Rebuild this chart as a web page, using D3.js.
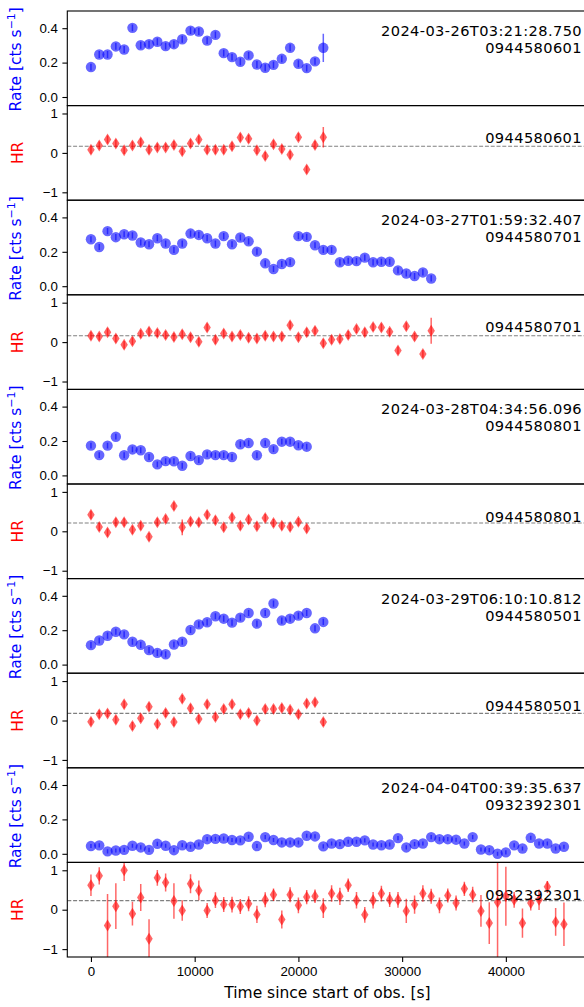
<!DOCTYPE html>
<html>
<head>
<meta charset="utf-8">
<script src="https://cdn.jsdelivr.net/npm/d3@7/dist/d3.min.js"></script>
<style>
    body { margin: 0; background: #fff; }
    svg { font-family: "DejaVu Sans", sans-serif; display: block; }
</style>
</head>
<body>
<div id="chart"></div>
<script>

// bin start times [s], 800 s bins
const binTimes = [0, 800, 1600, 2400, 3200, 4000, 4800, 5600, 6400, 7200, 8000, 8800, 9600, 10400, 11200,
    12000, 12800, 13600, 14400, 15200, 16000, 16800, 17600, 18400, 19200, 20000, 20800, 21600, 22400, 23200,
    24000, 24800, 25600, 26400, 27200, 28000, 28800, 29600, 30400, 31200, 32000, 32800, 33600, 34400, 35200,
    36000, 36800, 37600, 38400, 39200, 40000, 40800, 41600, 42400, 43200, 44000, 44800, 45600];

const obsDates = ["2024-03-26T03:21:28.750", "2024-03-27T01:59:32.407", "2024-03-28T04:34:56.096",
    "2024-03-29T06:10:10.812", "2024-04-04T00:39:35.637"];
const obsIds = ["0944580601", "0944580701", "0944580801", "0944580501", "0932392301"];

// count rates [cts/s]
const rate0601 = [0.174, 0.247, 0.247, 0.294, 0.276, 0.402, 0.301, 0.307, 0.321, 0.296, 0.307, 0.336, 0.386, 0.381, 0.328,
    0.361, 0.255, 0.232, 0.205, 0.242, 0.189, 0.170, 0.187, 0.222, 0.286, 0.193, 0.168, 0.207, 0.286];
const rate0701 = [0.273, 0.228, 0.320, 0.285, 0.302, 0.295, 0.254, 0.244, 0.279, 0.248, 0.211, 0.248, 0.306, 0.298, 0.279,
    0.248, 0.291, 0.244, 0.283, 0.261, 0.201, 0.133, 0.100, 0.129, 0.140, 0.291, 0.287, 0.238, 0.211, 0.211,
    0.139, 0.148, 0.146, 0.166, 0.139, 0.142, 0.142, 0.092, 0.074, 0.059, 0.080, 0.045];
const rate0801 = [0.173, 0.118, 0.173, 0.225, 0.117, 0.151, 0.146, 0.107, 0.064, 0.083, 0.082, 0.056, 0.113, 0.089, 0.122,
    0.118, 0.118, 0.107, 0.181, 0.188, 0.117, 0.188, 0.153, 0.196, 0.196, 0.175, 0.167];
const rate0501 = [0.113, 0.140, 0.168, 0.191, 0.176, 0.133, 0.115, 0.084, 0.068, 0.060, 0.117, 0.133, 0.201, 0.234, 0.246,
    0.281, 0.267, 0.244, 0.273, 0.300, 0.238, 0.300, 0.355, 0.256, 0.267, 0.285, 0.300, 0.211, 0.248];
const rate2301 = [0.045, 0.049, 0.014, 0.019, 0.023, 0.047, 0.037, 0.023, 0.058, 0.047, 0.021, 0.050, 0.041, 0.054, 0.085,
    0.087, 0.089, 0.080, 0.078, 0.099, 0.045, 0.097, 0.080, 0.066, 0.066, 0.066, 0.105, 0.101, 0.043, 0.060,
    0.056, 0.070, 0.070, 0.078, 0.054, 0.050, 0.054, 0.091, 0.037, 0.056, 0.060, 0.097, 0.085, 0.085, 0.082,
    0.060, 0.097, 0.025, 0.021, 0.000, 0.008, 0.049, 0.031, 0.093, 0.060, 0.060, 0.031, 0.041];

// typical rate error per obs, plus the odd bigger one
const rateErr = [0.02, 0.018, 0.017, 0.018, 0.012];
const rateErrBig = [{28: 0.082}, {}, {}, {}, {}];

// hardness ratios
const hr0601 = [0.08, 0.19, 0.34, 0.24, 0.07, 0.19, 0.27, 0.08, 0.14, 0.14, 0.20, 0.04, 0.24, 0.34, 0.08,
    0.08, 0.08, 0.17, 0.39, 0.36, 0.07, -0.08, 0.22, 0.10, -0.05, 0.40, -0.42, 0.20, 0.40];
const hr0701 = [0.16, 0.14, 0.25, 0.09, -0.07, 0.02, 0.21, 0.27, 0.23, 0.18, 0.13, 0.20, 0.12, 0.01, 0.37,
    0.06, 0.22, 0.14, 0.18, 0.11, 0.09, 0.16, 0.14, 0.14, 0.43, 0.12, 0.25, 0.29, -0.03, 0.06,
    0.08, 0.18, 0.33, 0.25, 0.38, 0.37, 0.26, -0.21, 0.40, 0.14, -0.30, 0.29];
const hr0801 = [0.42, 0.11, -0.03, 0.23, 0.23, 0.04, 0.14, -0.14, 0.23, 0.31, 0.64, 0.10, 0.25, 0.23, 0.42,
    0.28, 0.10, 0.35, 0.14, 0.30, 0.13, 0.34, 0.21, 0.14, 0.11, 0.24, 0.07];
const hr0501 = [-0.03, 0.16, 0.18, 0.02, 0.41, -0.14, 0.06, 0.35, -0.09, 0.19, -0.04, 0.55, 0.31, 0.04, 0.41,
    0.09, 0.29, 0.41, 0.16, 0.19, 0.00, 0.29, 0.29, 0.32, 0.27, 0.16, 0.43, 0.46, -0.04];
const hr2301 = [0.62, 0.86, -0.40, 0.09, 1.00, -0.10, 0.31, -0.74, 0.81, 0.69, 0.22, -0.02, 0.66, 0.49, -0.02,
    0.24, 0.13, 0.13, 0.08, 0.15, -0.12, 0.25, 0.38, -0.25, 0.38, 0.11, 0.32, 0.34, 0.04, 0.41,
    0.34, 0.62, 0.24, -0.13, 0.24, 0.41, 0.26, 0.25, -0.03, 0.13, 0.41, 0.34, 0.11, 0.36, 0.17,
    0.53, 0.38, -0.03, -0.34, 0.19, 0.34, 0.25, -0.34, 0.17, 0.25, 0.58, -0.31, -0.37];
const hr2301Err = [0.27, 0.22, 0.8, 0.58, 0.27, 0.3, 0.34, 0.5, 0.2, 0.23, 0.45, 0.26, 0.24, 0.25, 0.19,
    0.2, 0.19, 0.2, 0.19, 0.19, 0.22, 0.19, 0.16, 0.23, 0.19, 0.2, 0.18, 0.17, 0.25, 0.21,
    0.22, 0.17, 0.21, 0.2, 0.21, 0.2, 0.19, 0.2, 0.31, 0.23, 0.21, 0.19, 0.2, 0.18, 0.19,
    0.18, 0.2, 0.4, 0.53, 1.45, 0.75, 0.2, 0.37, 0.19, 0.26, 0.15, 0.35, 0.55];
const hrErr = [0.1, 0.1, 0.1, 0.1, null];
const hrErrBig = [{28: 0.26}, {41: 0.33}, {11: 0.2}, {}, {}];
const hrMean = [0.17, 0.16, 0.21, 0.18, 0.23];


class LightCurveVis {

    constructor(parentElement) {
        this.parentElement = parentElement;
        this.rates = [rate0601, rate0701, rate0801, rate0501, rate2301];
        this.hrs = [hr0601, hr0701, hr0801, hr0501, hr2301];
        this.initVis();
    }

    initVis() {
        let vis = this;

        vis.width = 584;
        vis.height = 1007;
        vis.left = 67.3;
        vis.top = 11;
        vis.panelH = 94.6;

        vis.svg = d3.select("#" + vis.parentElement).append("svg")
            .attr("width", vis.width)
            .attr("height", vis.height);

        // shared time axis, 5% margins like matplotlib
        vis.x = d3.scaleLinear()
            .domain([-2280, 47880])
            .range([vis.left, 587.6]);

        vis.yRate = d3.scaleLinear().domain([-0.05, 0.5]).range([vis.panelH, 0]);
        vis.yHR = d3.scaleLinear().domain([-1.2, 1.2]).range([vis.panelH, 0]);

        vis.wrangleData();
    }

    wrangleData() {
        let vis = this;

        vis.displayData = obsIds.map((id, k) => {
            let rate = vis.rates[k].map((v, i) => ({
                t: binTimes[i], v: v,
                e: rateErrBig[k][i] !== undefined ? rateErrBig[k][i] : rateErr[k]
            }));
            let hr = vis.hrs[k].map((v, i) => ({
                t: binTimes[i], v: v,
                e: k === 4 ? hr2301Err[i] : (hrErrBig[k][i] !== undefined ? hrErrBig[k][i] : hrErr[k])
            }));
            return {id: id, date: obsDates[k], rate: rate, hr: hr, mean: hrMean[k]};
        });

        vis.updateVis();
    }

    makePanel(index, name) {
        let vis = this;
        let g = vis.svg.append("g")
            .attr("transform", `translate(0, ${vis.top + index * vis.panelH})`);

        g.append("clipPath").attr("id", "clip-" + name)
            .append("rect")
            .attr("x", vis.left).attr("y", 0)
            .attr("width", 600 - vis.left).attr("height", vis.panelH);

        return g;
    }

    drawFrame(g, y, ticks, fmt) {
        let vis = this;
        let axis = g.append("g")
            .attr("transform", `translate(${vis.left}, 0)`)
            .call(d3.axisLeft(y).tickValues(ticks).tickFormat(fmt).tickSize(4.9).tickPadding(4.5));
        axis.select(".domain").remove();
        axis.selectAll("line").attr("stroke", "#000").attr("stroke-width", 1.1);
        axis.selectAll("text").attr("font-size", 13.3).attr("fill", "#000");

        g.append("rect")
            .attr("x", vis.left).attr("y", 0)
            .attr("width", 640 - vis.left).attr("height", vis.panelH)
            .attr("fill", "none").attr("stroke", "#000").attr("stroke-width", 1.1);
    }

    updateVis() {
        let vis = this;

        vis.displayData.forEach((obs, k) => {

            // ---- rate panel
            let gr = vis.makePanel(2 * k, "rate" + k);
            let plotR = gr.append("g").attr("clip-path", `url(#clip-rate${k})`);

            plotR.selectAll(".err")
                .data(obs.rate)
                .enter().append("line")
                .attr("x1", d => vis.x(d.t)).attr("x2", d => vis.x(d.t))
                .attr("y1", d => vis.yRate(d.v - d.e)).attr("y2", d => vis.yRate(d.v + d.e))
                .attr("stroke", "blue").attr("stroke-opacity", 0.6).attr("stroke-width", 1.5);

            plotR.selectAll(".pt")
                .data(obs.rate)
                .enter().append("circle")
                .attr("cx", d => vis.x(d.t)).attr("cy", d => vis.yRate(d.v))
                .attr("r", 5.2)
                .attr("fill", "blue").attr("fill-opacity", 0.6);

            vis.drawFrame(gr, vis.yRate, [0, 0.2, 0.4], d3.format(".1f"));

            // two-line annotation, kept far enough apart not to collide
            gr.append("text")
                .attr("x", 582).attr("y", 25)
                .attr("text-anchor", "end").attr("font-size", 14.6)
                .attr("letter-spacing", 0.4)
                .text(obs.date);
            gr.append("text")
                .attr("x", 582).attr("y", 42)
                .attr("text-anchor", "end").attr("font-size", 14.6)
                .attr("letter-spacing", 0.4)
                .text(obs.id);

            let rl = gr.append("text")
                .attr("transform", `translate(20.5, ${vis.panelH / 2 + 1}) rotate(-90)`)
                .attr("text-anchor", "middle")
                .attr("font-size", 15.5)
                .attr("fill", "blue");
            rl.append("tspan").text("Rate [cts s");
            rl.append("tspan").attr("dy", -6).attr("font-size", 11).text("\u22121");
            rl.append("tspan").attr("dy", 6).text("]");

            // ---- hardness ratio panel
            let gh = vis.makePanel(2 * k + 1, "hr" + k);
            let plotH = gh.append("g").attr("clip-path", `url(#clip-hr${k})`);

            plotH.append("line")
                .attr("x1", vis.left).attr("x2", 600)
                .attr("y1", vis.yHR(obs.mean)).attr("y2", vis.yHR(obs.mean))
                .attr("stroke", "#808080").attr("stroke-width", 1.1)
                .attr("stroke-dasharray", "4,1.8");

            plotH.selectAll(".err")
                .data(obs.hr)
                .enter().append("line")
                .attr("x1", d => vis.x(d.t)).attr("x2", d => vis.x(d.t))
                .attr("y1", d => vis.yHR(d.v - d.e)).attr("y2", d => vis.yHR(d.v + d.e))
                .attr("stroke", "red").attr("stroke-opacity", 0.6).attr("stroke-width", 1.5);

            plotH.selectAll(".pt")
                .data(obs.hr)
                .enter().append("path")
                .attr("transform", d => `translate(${vis.x(d.t)}, ${vis.yHR(d.v)})`)
                .attr("d", "M0,-6 L3.7,0 L0,6 L-3.7,0 Z")
                .attr("fill", "red").attr("fill-opacity", 0.6);

            vis.drawFrame(gh, vis.yHR, [-1, 0, 1], d3.format("d"));

            gh.append("text")
                .attr("x", 582).attr("y", 37.5)
                .attr("text-anchor", "end").attr("font-size", 14.6)
                .attr("letter-spacing", 0.4)
                .text(obs.id);

            gh.append("text")
                .attr("transform", `translate(22.5, ${vis.panelH / 2}) rotate(-90)`)
                .attr("text-anchor", "middle")
                .attr("font-size", 15.5)
                .attr("fill", "red")
                .text("HR");
        });

        // bottom time axis
        let bottom = vis.top + 10 * vis.panelH;
        let xAxis = vis.svg.append("g")
            .attr("transform", `translate(0, ${bottom})`)
            .call(d3.axisBottom(vis.x).tickValues([0, 10000, 20000, 30000, 40000]).tickFormat(d3.format("d")).tickSize(4.9).tickPadding(4.5));
        xAxis.select(".domain").remove();
        xAxis.selectAll("line").attr("stroke", "#000").attr("stroke-width", 1.1);
        xAxis.selectAll("text").attr("font-size", 13.3).attr("fill", "#000");

        vis.svg.append("text")
            .attr("x", (vis.left + 587.6) / 2)
            .attr("y", bottom + 41)
            .attr("text-anchor", "middle")
            .attr("font-size", 15.5)
            .text("Time since start of obs. [s]");
    }
}

new LightCurveVis("chart");

</script>
</body>
</html>
